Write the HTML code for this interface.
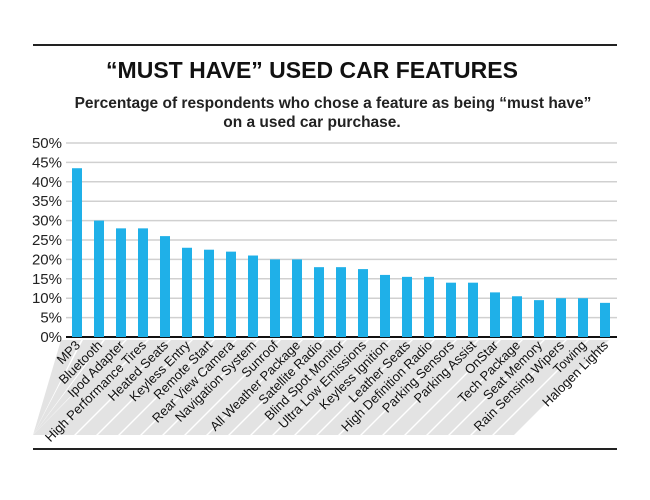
<!DOCTYPE html>
<html><head><meta charset="utf-8"><style>
body{margin:0;background:#fff;width:650px;height:495px;overflow:hidden;font-family:"Liberation Sans",sans-serif}
</style></head><body>
<svg width="650" height="495" id="chart">
<line x1="33" y1="45" x2="617" y2="45" stroke="#222" stroke-width="2"/>
<line x1="33" y1="449" x2="617" y2="449" stroke="#222" stroke-width="2"/>
<text x="312" y="78" text-anchor="middle" font-size="23" font-weight="bold" fill="#111">“MUST HAVE” USED CAR FEATURES</text>
<text x="333" y="108" text-anchor="middle" font-size="15.5" font-weight="bold" fill="#222">Percentage of respondents who chose a feature as being “must have”</text>
<text x="312" y="127" text-anchor="middle" font-size="15.5" font-weight="bold" fill="#222">on a used car purchase.</text>
<g id="stripes"></g><g id="grid"></g><g id="bars"></g><g id="labels"></g>
</svg>
<script>
const categories=["MP3","Bluetooth","Ipod Adapter","High Performance Tires","Heated Seats","Keyless Entry","Remote Start","Rear View Camera","Navigation System","Sunroof","All Weather Package","Satellite Radio","Blind Spot Monitor","Ultra Low Emissions","Keyless Ignition","Leather Seats","High Definition Radio","Parking Sensors","Parking Assist","OnStar","Tech Package","Seat Memory","Rain Sensing Wipers","Towing","Halogen Lights"];
const values=[43.5,30,28,28,26,23,22.5,22,21,20,20,18,18,17.5,16,15.5,15.5,14,14,11.5,10.5,9.5,10,10,8.8];
const ticks=[0,5,10,15,20,25,30,35,40,45,50];
const NS="http://www.w3.org/2000/svg";
const y0=337,y1=143,x0=66,x1=617;
function yScale(v){return y0-(v/50)*(y0-y1);}
function xScale(i){return 77+i*(605-77)/(categories.length-1);}
function mk(t,a,p){const e=document.createElementNS(NS,t);for(const k in a)e.setAttribute(k,a[k]);document.getElementById(p).appendChild(e);return e;}
ticks.forEach(t=>{
  const l=mk("line",{x1:x0,x2:x1,y1:yScale(t),y2:yScale(t),stroke:t===0?"#111":"#d0d0d0","stroke-width":t===0?2:1.5},"grid");
  
  
  const tx=mk("text",{x:62,y:yScale(t)+5,"text-anchor":"end","font-size":"15",fill:"#222"},"grid");
  tx.textContent=t+"%";
  
  
});
categories.forEach((c,i)=>{
  const cx=xScale(i);
  let L=cx-16,R=cx+4;
  const pts=[[L,340],[R,340],[R-95,435],[L-95,435]].map(p=>[Math.max(33,p[0]),p[1]]);
  const s=mk("polygon",{points:pts.map(p=>p.join(",")).join(" "),fill:"#e3e3e3"},"stripes");
  
  
  const b=mk("rect",{x:cx-5,y:yScale(values[i]),width:10,height:y0-yScale(values[i]),fill:"#1fb0e8"},"bars");
  
  
  const t=mk("text",{x:cx+4,y:346,"text-anchor":"end","font-size":"13",fill:"#111",transform:`rotate(-45 ${cx+4} 346)`},"labels");
  t.textContent=c;
  
  
});
</script>
</body></html>
